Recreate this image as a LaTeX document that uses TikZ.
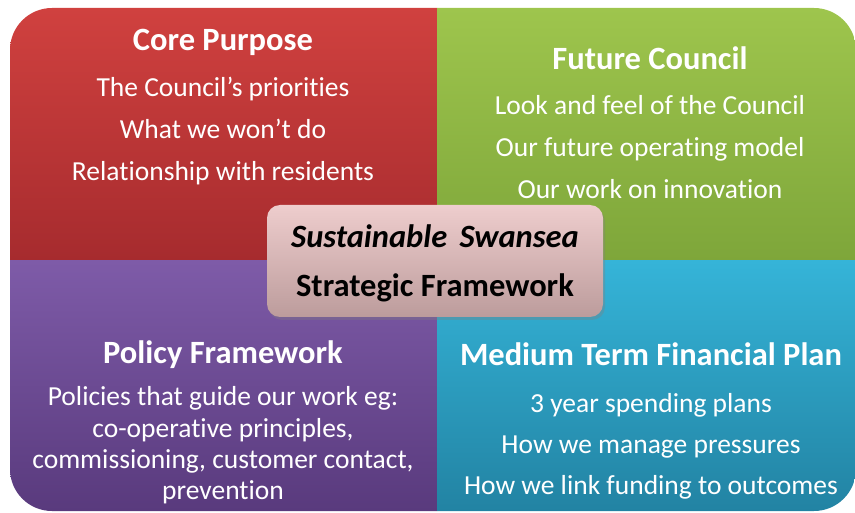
\documentclass[tikz,border=0pt]{standalone}
\usepackage{fontspec}
\setmainfont{Carlito}[Ligatures=NoCommon]
\usetikzlibrary{shadows}
\definecolor{redT}{HTML}{D0413F}
\definecolor{redB}{HTML}{A62B2E}
\definecolor{grnT}{HTML}{9EC54D}
\definecolor{grnB}{HTML}{7EA63A}
\definecolor{purT}{HTML}{7E5BA8}
\definecolor{purB}{HTML}{593A7D}
\definecolor{bluT}{HTML}{35B4D8}
\definecolor{bluB}{HTML}{2283A3}
\definecolor{pnkT}{HTML}{EECDCD}
\definecolor{pnkB}{HTML}{BC9C9C}
\tikzset{
  ttl/.style={text=white,font=\fontsize{32.5}{36}\selectfont\bfseries,inner sep=0pt,anchor=base},
  bdy/.style={text=white,font=\fontsize{27.5}{32}\selectfont,inner sep=0pt,anchor=base},
  ctr/.style={text=black,font=\fontsize{32.5}{36}\selectfont\bfseries,inner sep=0pt,anchor=base},
}
\begin{document}
\begin{tikzpicture}[x=1pt,y=-1pt]
\useasboundingbox (0,0) rectangle (855,513);
\begin{scope}
\clip[rounded corners=42pt] (10,8) rectangle (856,511);
\shade[top color=redT,bottom color=redB] (10,8) rectangle (437,261);
\shade[top color=grnT,bottom color=grnB] (437,8) rectangle (856,261);
\shade[top color=purT,bottom color=purB] (10,261) rectangle (437,511);
\shade[top color=bluT,bottom color=bluB] (437,261) rectangle (856,511);
\end{scope}
% center box
\node[rounded corners=13pt,minimum width=336pt,minimum height=112pt,
  top color=pnkT,bottom color=pnkB,drop shadow={opacity=0.35,shadow xshift=2pt,shadow yshift=-3pt},
  inner sep=0pt] (c) at (435,261) {};
\node[ctr,font=\fontsize{32.5}{36}\selectfont\bfseries\itshape] (c1) at (435,248) {Sustainable\hspace{0.15em} Swansea};
\node[ctr] (c2) at (435,297) {Strategic Framework};
% red
\node[ttl] (r0) at (223,51) {Core Purpose};
\node[bdy] (r1) at (223,97) {The Council’s priorities};
\node[bdy] (r2) at (223,139) {What we won’t do};
\node[bdy] (r3) at (223,181) {Relationship with residents};
% green
\node[ttl] (g0) at (650,70) {Future Council};
\node[bdy] (g1) at (650,115) {Look and feel of the Council};
\node[bdy] (g2) at (650,157) {Our future operating model};
\node[bdy] (g3) at (650,199) {Our work on innovation};
% purple
\node[ttl] (p0) at (223,363) {Policy Framework};
\node[bdy] (p1) at (223,406) {Policies that guide our work eg:};
\node[bdy] (p2) at (223,437) {co-operative principles,};
\node[bdy] (p3) at (223,468) {commissioning, customer contact,};
\node[bdy] (p4) at (223,499) {prevention};
% blue
\node[ttl] (b0) at (651,366) {Medium Term Financial Plan};
\node[bdy] (b1) at (651,412) {3 year spending plans};
\node[bdy] (b2) at (651,453) {How we manage pressures};
\node[bdy] (b3) at (651,494) {How we link funding to outcomes};
\end{tikzpicture}
\end{document}
